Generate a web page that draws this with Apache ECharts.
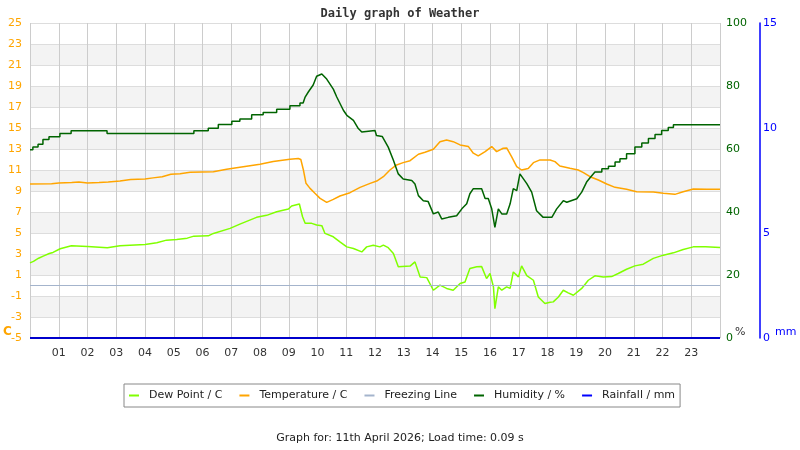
<!DOCTYPE html>
<html>
<head>
<meta charset="utf-8">
<title>Daily graph of Weather</title>
<script src="https://cdn.jsdelivr.net/npm/echarts@6/dist/echarts.min.js"></script>
<style>
  html, body { margin: 0; padding: 0; background: #fff; }
  #chart { width: 800px; height: 450px; }
</style>
</head>
<body>
<div id="chart"></div>
<script>
// hour ticks along the bottom
var hourTicks = ['01','02','03','04','05','06','07','08','09','10','11','12',
                 '13','14','15','16','17','18','19','20','21','22','23'];

var dewHours = [0.0, 0.12, 0.3, 0.46, 0.67, 0.8, 1.05, 1.44, 2.0, 2.69, 3.13, 4.0, 4.41, 4.75, 5.10, 5.47, 5.70,
    6.20, 6.38, 6.96, 7.30, 7.88, 8.23, 8.58, 8.99, 9.10, 9.37, 9.48, 9.57, 9.80, 9.97, 10.15, 10.26, 10.55,
    10.78, 11.02, 11.25, 11.54, 11.71, 11.94, 12.17, 12.29, 12.46, 12.64, 12.81, 13.22, 13.39, 13.57, 13.8,
    14.03, 14.26, 14.49, 14.72, 14.96, 15.13, 15.30, 15.54, 15.71, 15.88, 16.0, 16.12, 16.17, 16.29, 16.41,
    16.58, 16.70, 16.81, 16.99, 17.10, 17.28, 17.51, 17.68, 17.91, 18.09, 18.2, 18.38, 18.55, 18.72, 18.9,
    19.19, 19.42, 19.65, 19.94, 20.23, 20.46, 20.75, 21.04, 21.33, 21.68, 22.03, 22.38, 22.72, 23.07, 23.5, 24.0];
var dewValues = [2.16, 2.3, 2.6, 2.8, 3.05, 3.15, 3.5, 3.78, 3.72, 3.6, 3.78, 3.91, 4.07, 4.32, 4.39, 4.51, 4.7,
    4.73, 4.96, 5.44, 5.85, 6.49, 6.68, 7.02, 7.28, 7.57, 7.76, 6.55, 5.92, 5.92, 5.76, 5.7, 4.96, 4.64,
    4.16, 3.68, 3.53, 3.2, 3.68, 3.84, 3.68, 3.84, 3.6, 3.05, 1.78, 1.85, 2.25, 0.82, 0.75,
    -0.45, 0.03, -0.28, -0.45, 0.19, 0.34, 1.62, 1.78, 1.8, 0.66, 1.14, -0.13, -2.2, -0.13, -0.45,
    -0.13, -0.28, 1.29, 0.82, 1.87, 0.94, 0.5, -1.09, -1.72, -1.6, -1.56, -1.09, -0.45, -0.7, -0.93,
    -0.28, 0.5, 0.92, 0.82, 0.85, 1.14, 1.55, 1.87, 2.03, 2.58, 2.89, 3.11, 3.43, 3.68, 3.7, 3.63];

var tempHours = [0.0, 0.75, 1.0, 1.45, 1.7, 2.0, 2.4, 2.72, 3.13, 3.5, 4.0, 4.28, 4.6, 4.9, 5.22, 5.57, 6.38,
    6.84, 7.30, 8.0, 8.46, 9.04, 9.33, 9.42, 9.51, 9.60, 9.74, 9.91, 10.09, 10.32, 10.55, 10.78, 11.13, 11.48,
    11.83, 12.06, 12.29, 12.52, 12.75, 12.98, 13.22, 13.51, 13.74, 14.03, 14.26, 14.49, 14.72, 14.96, 15.25,
    15.42, 15.59, 15.83, 16.06, 16.23, 16.46, 16.58, 16.75, 16.93, 17.10, 17.33, 17.51, 17.74, 18.09, 18.26,
    18.43, 18.78, 19.07, 19.25, 19.48, 19.77, 20.06, 20.35, 20.75, 21.10, 21.68, 22.03, 22.43, 22.72, 23.07,
    23.54, 24.0];
var tempValues = [9.67, 9.70, 9.76, 9.80, 9.86, 9.76, 9.80, 9.86, 9.95, 10.1, 10.15, 10.25, 10.35, 10.6, 10.65, 10.78, 10.84,
    11.07, 11.26, 11.55, 11.8, 12.02, 12.1, 12.0, 11.0, 9.73, 9.25, 8.78, 8.3, 7.92, 8.2, 8.52, 8.84, 9.35,
    9.73, 9.95, 10.36, 11.0, 11.48, 11.7, 11.89, 12.5, 12.69, 12.98, 13.7, 13.86, 13.7, 13.39, 13.23,
    12.6, 12.34, 12.75, 13.23, 12.75, 13.07, 13.1, 12.27, 11.32, 11.0, 11.15, 11.7, 11.96, 11.96, 11.8,
    11.38, 11.16, 11.0, 10.75, 10.36, 10.05, 9.67, 9.35, 9.16, 8.93, 8.9, 8.78, 8.68, 8.93, 9.19,
    9.16, 9.16];

// humidity readings; repeated hours are the corners of the stair steps
var humHours = [0, 0.10, 0.10, 0.28, 0.28, 0.45, 0.45, 0.66, 0.66, 1.04, 1.04, 1.43, 1.43, 2.68, 2.68, 5.70,
    5.70, 6.20, 6.20, 6.55, 6.55, 7.02, 7.02, 7.30, 7.30, 7.71, 7.71, 8.11, 8.11, 8.58, 8.58, 9.04, 9.04, 9.39,
    9.39, 9.50, 9.57, 9.68, 9.85, 9.97, 10.15, 10.32, 10.55, 10.67, 10.90, 11.02, 11.25, 11.42, 11.54, 11.60,
    12.0, 12.05, 12.25, 12.46, 12.64, 12.81, 12.98, 13.28, 13.39, 13.51, 13.68, 13.85, 14.03, 14.20, 14.32,
    14.55, 14.84, 15.02, 15.19, 15.30, 15.42, 15.71, 15.83, 15.94, 16.06, 16.17, 16.29, 16.41, 16.58, 16.70,
    16.81, 16.93, 17.04, 17.10, 17.28, 17.45, 17.62, 17.85, 18.15, 18.32, 18.55, 18.67, 19.02, 19.19, 19.36,
    19.48, 19.65, 19.89, 19.89, 20.12, 20.12, 20.35, 20.35, 20.52, 20.52, 20.75, 20.75, 21.04, 21.04, 21.28,
    21.28, 21.51, 21.51, 21.74, 21.74, 21.97, 21.97, 22.20, 22.20, 22.38, 22.38, 24.0];
var humValues = [59.8, 59.8, 60.6, 60.6, 61.5, 61.5, 63.0, 63.0, 63.9, 63.9, 64.9, 64.9, 65.8, 65.8, 64.9, 64.9,
    65.8, 65.8, 66.6, 66.6, 67.8, 67.8, 68.8, 68.8, 69.5, 69.5, 70.9, 70.9, 71.6, 71.6, 72.6, 72.6, 73.7, 73.7,
    74.6, 74.6, 76.5, 78.1, 80.3, 83.1, 83.8, 82.2, 79.0, 76.5, 72.3, 70.7, 69.1, 66.5, 65.4, 65.9,
    65.9, 64.3, 64.0, 60.6, 56.4, 52.1, 50.5, 50.0, 48.9, 45.2, 43.6, 43.3, 39.4, 40.0, 37.8,
    38.3, 38.8, 41.0, 42.6, 45.8, 47.4, 47.4, 44.3, 44.3, 41.0, 35.1, 41.0, 39.4, 39.4, 42.6,
    47.4, 46.8, 52.1, 52.7, 49.0, 46.3, 40.4, 38.3, 38.3, 41.0, 43.6, 43.1, 44.2, 46.3, 49.5,
    50.9, 52.7, 52.7, 53.7, 53.7, 54.5, 54.5, 55.9, 55.9, 56.9, 56.9, 58.5, 58.5, 60.6, 60.6, 61.9,
    61.9, 63.3, 63.3, 64.6, 64.6, 65.9, 65.9, 66.8, 66.8, 67.7, 67.7, 67.7];

var rainHours = [0, 24];
var rainValues = [0, 0];
var freezeHours = [0, 24];
var freezeValues = [0, 0];

function pairs(xs, ys) {
    return xs.map(function (x, i) { return [x, ys[i]]; });
}

var FONT = 'DejaVu Sans';
var chart = echarts.init(document.getElementById('chart'), null, { renderer: 'canvas' });

var option = {
    animation: false,
    backgroundColor: '#fff',
    title: {
        text: 'Daily graph of Weather',
        left: 'center',
        top: 3,
        textStyle: { fontFamily: 'DejaVu Sans Mono', fontWeight: 'bold', fontSize: 12, color: '#333' }
    },
    legend: {
        left: 124,
        top: 384,
        padding: [6, 5, 6, 5],
        itemGap: 17,
        itemWidth: 10,
        itemHeight: 2,
        icon: 'rect',
        borderColor: '#888',
        borderWidth: 1,
        textStyle: { fontFamily: FONT, fontSize: 11, color: '#222', padding: [0, 0, 0, 5] },
        data: ['Dew Point / C', 'Temperature / C', 'Freezing Line', 'Humidity / %', 'Rainfall / mm']
    },
    grid: { left: 30, right: 80, top: 23, bottom: 112 },
    xAxis: {
        type: 'value',
        min: 0,
        max: 24,
        interval: 1,
        axisLine: { show: false },
        axisTick: { show: false },
        axisLabel: {
            margin: 10,
            color: '#333',
            fontFamily: FONT,
            fontSize: 11,
            formatter: function (v) {
                return (v >= 1 && v <= 23) ? hourTicks[v - 1] : '';
            }
        },
        splitLine: { show: true, lineStyle: { color: '#cccccc', width: 1 } }
    },
    yAxis: [{
        type: 'value',
        min: -5,
        max: 25,
        interval: 2,
        axisLine: { show: false },
        axisTick: { show: false },
        axisLabel: { margin: 8, color: '#FFA500', fontFamily: FONT, fontSize: 11 },
        splitLine: { show: true, lineStyle: { color: '#dddddd', width: 1 } },
        splitArea: { show: true, areaStyle: { color: ['#ffffff', '#f3f3f3'] } }
    }, {
        type: 'value',
        position: 'right',
        min: 0,
        max: 100,
        interval: 20,
        axisLine: { show: false },
        axisTick: { show: false },
        axisLabel: { margin: 6, color: '#006400', fontFamily: FONT, fontSize: 11 },
        splitLine: { show: false }
    }, {
        type: 'value',
        position: 'right',
        offset: 40,
        min: 0,
        max: 15,
        interval: 5,
        axisLine: { show: true, lineStyle: { color: '#0000FF', width: 1.5 } },
        axisTick: { show: false },
        axisLabel: { margin: 3, color: '#0000FF', fontFamily: FONT, fontSize: 11 },
        splitLine: { show: false }
    }],
    graphic: [
        { type: 'text', left: 3, top: 326,
          style: { text: 'C', fill: '#FFA500', font: 'bold 12px "DejaVu Sans"' } },
        { type: 'text', left: 735, top: 327,
          style: { text: '%', fill: '#333', font: '11px "DejaVu Sans"' } },
        { type: 'text', left: 775, top: 327,
          style: { text: 'mm', fill: '#0000FF', font: '11px "DejaVu Sans"' } },
        { type: 'text', left: 'center', top: 433,
          style: { text: 'Graph for: 11th April 2026; Load time: 0.09 s', fill: '#222', font: '11px "DejaVu Sans"' } }
    ],
    series: [{
        name: 'Dew Point / C',
        type: 'line',
        yAxisIndex: 0,
        showSymbol: false,
        lineStyle: { color: '#80FF00', width: 1.5 },
        itemStyle: { color: '#80FF00' },
        data: pairs(dewHours, dewValues)
    }, {
        name: 'Temperature / C',
        type: 'line',
        yAxisIndex: 0,
        showSymbol: false,
        lineStyle: { color: '#FFA500', width: 1.5 },
        itemStyle: { color: '#FFA500' },
        data: pairs(tempHours, tempValues)
    }, {
        name: 'Freezing Line',
        type: 'line',
        yAxisIndex: 0,
        showSymbol: false,
        lineStyle: { color: '#A4B4CC', width: 1 },
        itemStyle: { color: '#A4B4CC' },
        data: pairs(freezeHours, freezeValues)
    }, {
        name: 'Humidity / %',
        type: 'line',
        yAxisIndex: 1,
        showSymbol: false,
        lineStyle: { color: '#006400', width: 1.5 },
        itemStyle: { color: '#006400' },
        data: pairs(humHours, humValues)
    }, {
        name: 'Rainfall / mm',
        type: 'line',
        yAxisIndex: 2,
        showSymbol: false,
        lineStyle: { color: '#0000CC', width: 2 },
        itemStyle: { color: '#0000FF' },
        data: pairs(rainHours, rainValues)
    }]
};
chart.setOption(option);
</script>
</body>
</html>
